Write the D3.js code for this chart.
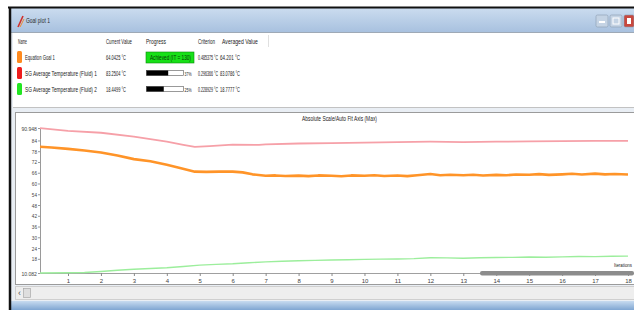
<!DOCTYPE html>
<html>
<head>
<meta charset="utf-8">
<script src="https://cdn.jsdelivr.net/npm/d3@7"></script>
<style>
    body { margin: 0; background: #fff; }
    svg { display: block; font-family: "Liberation Sans", Arial, sans-serif; }
</style>
</head>
<body>
<svg id="goalPlot" width="634" height="310"></svg>
<script>
// legend table
var columns = ['Name', 'Current Value', 'Progress', 'Criterion', 'Averaged Value'];
var goalNames = ['Equation Goal 1', 'SG Average Temperature (Fluid) 1', 'SG Average Temperature (Fluid) 2'];
var currentValues = ['64.0425 °C', '83.2504 °C', '18.4499 °C'];
var progressValues = [100, 37, 25];
var progressLabels = ['Achieved (IT = 130)', '37%', '25%'];
var criterionValues = ['0.485375 °C', '0.296366 °C', '0.228929 °C'];
var averagedValues = ['64.201 °C', '83.0786 °C', '18.7777 °C'];
var goalColors = ['#ff8a1e', '#ee1c1c', '#22e622'];
var lineColors = ['#ff9428', '#f6a0a8', '#9cee9c'];

// axes
var yTicks = [10.082, 18, 24, 30, 36, 42, 48, 54, 60, 66, 72, 78, 84, 90.948];
var xTicks = [1, 2, 3, 4, 5, 6, 7, 8, 9, 10, 11, 12, 13, 14, 15, 16, 17, 18];

// series (travel, value)
var equationGoal = [
    [0.15, 80.5], [0.5, 80.1], [1, 79.3], [1.5, 78.4], [2, 77.3], [2.5, 75.6], [3, 73.6], [3.5, 72.4],
    [4, 70.4], [4.4, 68.7], [4.85, 66.6], [5.2, 66.5], [5.6, 66.6], [6, 66.6], [6.3, 66.2], [6.6, 65.1],
    [7, 64.3], [7.3, 64.5], [7.6, 64.2], [8, 64.4], [8.3, 64.1], [8.6, 64.5], [9, 64.3], [9.3, 64.0],
    [9.6, 64.5], [10, 64.3], [10.3, 64.6], [10.6, 64.2], [11, 64.5], [11.3, 64.1], [11.6, 64.6], [12, 65.3],
    [12.3, 64.6], [12.6, 64.9], [13, 64.6], [13.3, 64.9], [13.6, 64.5], [14, 64.8], [14.3, 64.6], [14.6, 65.0],
    [15, 64.9], [15.3, 65.2], [15.6, 64.8], [16, 65.1], [16.3, 65.4], [16.6, 65.0], [17, 65.5], [17.3, 65.1],
    [17.6, 65.3], [18, 65.0]
];
var fluidTemp1 = [
    [0.15, 90.9], [1, 89.4], [2, 88.3], [3, 86.1], [4, 83.4], [4.5, 81.6], [4.85, 80.4], [5.3, 80.8],
    [6, 81.7], [6.8, 81.5], [7, 81.8], [8, 82.3], [9, 82.5], [10, 82.8], [11, 83.1], [12, 83.3],
    [13, 83.1], [14, 83.3], [15, 83.5], [16, 83.6], [17, 83.8], [18, 83.8]
];
var fluidTemp2 = [
    [0.15, 10.1], [1, 10.2], [1.5, 10.4], [2, 10.9], [2.5, 11.6], [3, 12.2], [3.5, 12.6], [4, 13.0],
    [4.5, 13.7], [5, 14.5], [5.5, 14.9], [6, 15.2], [6.5, 15.8], [7, 16.3], [7.5, 16.6], [8, 16.9],
    [8.5, 17.1], [9, 17.3], [9.5, 17.5], [10, 17.7], [10.5, 17.8], [11, 17.9], [11.5, 18.1], [12, 18.6],
    [12.5, 18.5], [13, 18.3], [13.5, 18.6], [14, 18.7], [14.5, 18.8], [15, 19.0], [15.5, 18.9], [16, 19.1],
    [16.5, 19.3], [17, 19.2], [17.5, 19.4], [18, 19.5]
];

(function()
{
    var svg = d3.select('#goalPlot');

    // squeezed text: scaled horizontally so it fills the given width
    var label = function(g, x, y, str, width, opts)
    {
        opts = opts || {};
        var t = g.append('text')
            .attr('font-size', opts.size || 7)
            .attr('font-family', '"Liberation Sans", Arial, sans-serif')
            .attr('text-anchor', 'start')
            .attr('fill', opts.fill || '#222')
            .text(str);
        var sx = 1;
        if (width) {
            sx = width / t.node().getComputedTextLength();
        }
        t.attr('transform', 'translate(' + x + ',' + y + ') scale(' + sx + ',1)');
        return t;
    };

    // window frame
    var defs = svg.append('defs');
    var grad = defs.append('linearGradient').attr('id', 'titleGrad').attr('x1', 0).attr('y1', 0).attr('x2', 0).attr('y2', 1);
    grad.append('stop').attr('offset', 0).attr('stop-color', '#cbdcef');
    grad.append('stop').attr('offset', 1).attr('stop-color', '#a8c1df');
    var grad2 = defs.append('linearGradient').attr('id', 'bottomGrad').attr('x1', 0).attr('y1', 0).attr('x2', 0).attr('y2', 1);
    grad2.append('stop').attr('offset', 0).attr('stop-color', '#c7dbf0');
    grad2.append('stop').attr('offset', 1).attr('stop-color', '#7fa6d2');

    svg.append('rect').attr('x', 11).attr('y', 8).attr('width', 623).attr('height', 302).attr('fill', '#e9eef4');
    svg.append('rect').attr('x', 11).attr('y', 8).attr('width', 623).attr('height', 24).attr('fill', 'url(#titleGrad)');
    svg.append('line').attr('x1', 11).attr('x2', 634).attr('y1', 32.5).attr('y2', 32.5).attr('stroke', '#9ea9b6');
    svg.append('rect').attr('x', 11).attr('y', 301).attr('width', 623).attr('height', 9).attr('fill', 'url(#bottomGrad)');
    svg.append('line').attr('x1', 8).attr('x2', 634).attr('y1', 7.5).attr('y2', 7.5).attr('stroke', '#111').attr('stroke-width', 2);
    svg.append('line').attr('x1', 10).attr('x2', 10).attr('y1', 7).attr('y2', 310).attr('stroke', '#111').attr('stroke-width', 2.5);

    // title bar
    svg.append('path').attr('d', 'M18,27 L23,16').attr('stroke', '#d0302a').attr('stroke-width', 1.6);
    svg.append('path').attr('d', 'M20,27 L24,19').attr('stroke', '#f08a30').attr('stroke-width', 1);
    label(svg, 26, 23, 'Goal plot 1', 24, { size: 7, fill: '#2a2a2a' });

    [[596, '#c4d3e4'], [610, '#c4d3e4'], [624, '#c8483e']].forEach(function(b)
    {
        svg.append('rect').attr('x', b[0]).attr('y', 15).attr('width', b[0] === 624 ? 10 : 12).attr('height', 12)
            .attr('rx', 1.5).attr('fill', b[1]).attr('stroke', '#8a9bb0').attr('stroke-width', 0.6);
    });
    svg.append('rect').attr('x', 599).attr('y', 21).attr('width', 6).attr('height', 2).attr('fill', '#fff');
    svg.append('rect').attr('x', 613).attr('y', 18).attr('width', 6).attr('height', 6).attr('fill', 'none').attr('stroke', '#fff');
    svg.append('rect').attr('x', 627).attr('y', 18).attr('width', 4).attr('height', 6).attr('fill', '#fff');

    // legend table
    var table = svg.append('g');
    table.append('rect').attr('x', 13).attr('y', 33).attr('width', 621).attr('height', 74).attr('fill', '#fff');
    table.append('line').attr('x1', 13).attr('x2', 634).attr('y1', 107.5).attr('y2', 107.5).attr('stroke', '#c2c2c2');
    table.append('line').attr('x1', 268.5).attr('x2', 268.5).attr('y1', 35).attr('y2', 47).attr('stroke', '#e0e0e0');

    var colX = [18, 106, 146, 198, 222];
    var colW = [9, 26, 20, 17, 36];
    columns.forEach(function(c, i)
    {
        label(table, colX[i], 44, c, colW[i], { size: 6.5 });
    });

    goalNames.forEach(function(name, i)
    {
        var y = 60 + i * 16;
        table.append('rect').attr('x', 17).attr('y', y - 9).attr('width', 5).attr('height', 12)
            .attr('rx', 1.5).attr('fill', goalColors[i]);
        label(table, 25, y, name, i === 0 ? 30 : 72, { size: 6.5 });
        label(table, 106, y, currentValues[i], 20, { size: 6.5 });

        if (progressValues[i] >= 100) {
            table.append('rect').attr('x', 146).attr('y', y - 8).attr('width', 48).attr('height', 11)
                .attr('fill', '#17e017').attr('stroke', '#0a8a0a').attr('stroke-width', 0.6);
            label(table, 150, y, progressLabels[i], 41, { size: 6.5, fill: '#063806' });
        } else {
            var bar = d3.scaleLinear().domain([0, 100]).range([0, 37]);
            table.append('rect').attr('x', 146.5).attr('y', y - 5.5).attr('width', 37).attr('height', 5)
                .attr('fill', '#fff').attr('stroke', '#555').attr('stroke-width', 0.6);
            table.append('rect').attr('x', 146.5).attr('y', y - 5.5).attr('width', bar(progressValues[i]) + 8).attr('height', 5)
                .attr('fill', '#000');
            label(table, 184.5, y, progressLabels[i], 7, { size: 6 });
        }

        label(table, 198, y, criterionValues[i], 20, { size: 6.5 });
        label(table, 220, y, averagedValues[i], 20, { size: 6.5 });
    });

    // chart panel
    svg.append('rect').attr('x', 15.5).attr('y', 112.5).attr('width', 620).attr('height', 172)
        .attr('fill', '#fff').attr('stroke', '#9b9b9b');
    label(svg, 302, 121, 'Absolute Scale/Auto Fit Axis (Max)', 75, { size: 6.5 });

    var x = d3.scaleLinear().domain([0.15, 18]).range([40, 628]);
    var y = d3.scaleLinear().domain([10.082, 90.948]).range([273, 128]);

    var fmt = function(d)
    {
        return d % 1 === 0 ? String(d) : d.toFixed(3);
    };

    var yAxis = svg.append('g')
        .attr('transform', 'translate(40,0)')
        .call(d3.axisLeft(y).tickValues(yTicks).tickSize(2).tickSizeOuter(0).tickFormat(fmt));
    yAxis.select('.domain').attr('stroke', '#9a9a9a');
    yAxis.selectAll('.tick line').attr('stroke', '#9a9a9a');
    yAxis.selectAll('.tick text').remove();
    yAxis.selectAll('.tick').each(function(d)
    {
        var s = fmt(d);
        label(d3.select(this), -3 - s.length * 2.6, 2, s, s.length * 2.6, { size: 6, fill: '#444' });
    });

    var xAxis = svg.append('g')
        .attr('transform', 'translate(0,273)')
        .call(d3.axisBottom(x).tickValues(xTicks).tickSize(3).tickSizeOuter(0).tickPadding(3));
    xAxis.select('.domain').attr('stroke', '#a0a0a0').attr('stroke-width', 1.2);
    xAxis.selectAll('.tick line').attr('stroke', '#8a8a8a');
    xAxis.selectAll('.tick text').attr('font-size', 6).attr('fill', '#444').attr('font-family', 'Liberation Sans');

    // range bar at the right end of the travel axis
    svg.append('rect').attr('x', 480).attr('y', 271).attr('width', 154).attr('height', 4.5)
        .attr('rx', 2).attr('fill', '#8c8c8c');
    label(svg, 614, 267, 'Iterations', 18, { size: 6 });

    var line = d3.line()
        .x(function(d) { return x(d[0]); })
        .y(function(d) { return y(d[1]); });

    var series = [
        { data: fluidTemp2, color: lineColors[2], width: 1.4 },
        { data: fluidTemp1, color: lineColors[1], width: 1.8 },
        { data: equationGoal, color: lineColors[0], width: 2.6 }
    ];
    svg.append('g').selectAll('path').data(series).enter().append('path')
        .attr('d', function(d) { return line(d.data); })
        .attr('fill', 'none')
        .attr('stroke', function(d) { return d.color; })
        .attr('stroke-width', function(d) { return d.width; })
        .attr('stroke-linejoin', 'round');

    // scrollbar
    svg.append('rect').attr('x', 15.5).attr('y', 286.5).attr('width', 620).attr('height', 13)
        .attr('fill', '#eeeeee').attr('stroke', '#cfcfcf');
    label(svg, 18, 296, '‹', 0, { size: 9, fill: '#555' });
    svg.append('rect').attr('x', 23.5).attr('y', 288.5).attr('width', 7).attr('height', 9)
        .attr('fill', '#dedede').attr('stroke', '#a8a8a8').attr('stroke-width', 0.7);
})();
</script>
</body>
</html>
